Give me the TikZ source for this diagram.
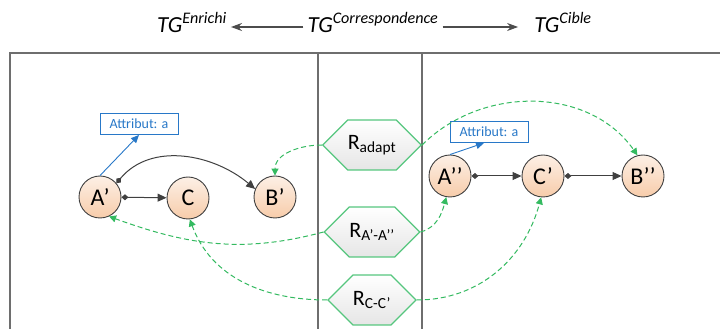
\documentclass[tikz,border=0pt]{standalone}
\usepackage{fontspec}
\setmainfont{Carlito}
\usetikzlibrary{arrows.meta,shapes.symbols}
\definecolor{framegray}{RGB}{110,110,110}
\definecolor{linkgray}{RGB}{64,64,64}
\definecolor{peach}{RGB}{247,204,170}
\definecolor{rulegreen}{RGB}{86,198,126}
\definecolor{mapgreen}{RGB}{52,186,96}
\definecolor{attrblue}{RGB}{40,120,200}

\begin{document}
\begin{tikzpicture}[x=1pt,y=1pt,
		concept/.style={circle,draw=linkgray,line width=0.9pt,top color=peach!30!white,bottom color=peach,
			minimum size=42pt,inner sep=0pt,font=\fontsize{24}{24}\selectfont},
		rulebox/.style={signal,signal to=east and west,signal pointer angle=90,draw=rulegreen,line width=1.2pt,
			top color=white,bottom color=black!10,minimum width=75pt,minimum height=50pt,inner sep=0pt,
			font=\fontsize{22}{22}\selectfont},
		attrbox/.style={draw=attrblue,line width=0.9pt,fill=white,text=attrblue,minimum width=78pt,
			minimum height=21pt,inner sep=1pt,font=\fontsize{14}{14}\selectfont},
		tglabel/.style={font=\fontsize{23}{23}\selectfont\itshape,inner sep=4pt},
		relation/.style={{Diamond[length=7pt,width=6pt]}-{Triangle[length=9pt,width=8pt]},linkgray,line width=1pt},
		mapping/.style={-{Triangle[length=7pt,width=7pt]},mapgreen,line width=1pt,dash pattern=on 5pt off 3pt},
		attrlink/.style={-{Triangle[length=8pt,width=7pt]},attrblue,line width=0.9pt},
		toparrow/.style={-{Stealth[length=11pt,width=8pt]},black!70,line width=1.2pt}]
	\useasboundingbox (0,0) rectangle (720,329);
	
	% Titles of the three graphs.
	\node[tglabel,anchor=base] (tgEnr) at (192,296) {TG\textsuperscript{Enrichi}};
	\node[tglabel,anchor=base] (tgCorr) at (373,296) {TG\textsuperscript{Correspondence}};
	\node[tglabel,anchor=base] (tgCib) at (563,296) {TG\textsuperscript{Cible}};
	\draw[toparrow] ([yshift=6pt]tgCorr.base west) -- ([yshift=6pt]tgEnr.base east);
	\draw[toparrow] ([yshift=6pt]tgCorr.base east) -- ([yshift=6pt,xshift=-12pt]tgCib.base west);
	
	% Frame and columns.
	\draw[framegray,line width=1.5pt] (10,0) -- (10,276) -- (720,276);
	\draw[framegray,line width=1.5pt] (318,0) -- (318,276);
	\draw[framegray,line width=1.5pt] (422,0) -- (422,276);
	
	% Enriched graph.
	\node[concept] (Ap) at (100,132) {A’};
	\node[concept] (C) at (188,131) {C};
	\node[concept] (Bp) at (275,132) {B’};
	\node[attrbox] (attrL) at (139,205) {Attribut: a};
	\draw[relation] (Ap) -- (C);
	\draw[relation] (Ap.40) to[out=50,in=140] (Bp.158);
	\draw[attrlink] (Ap.north) -- (attrL.south);
	
	% Target graph.
	\node[concept] (App) at (450,153) {A’’};
	\node[concept] (Cp) at (543,153) {C’};
	\node[concept] (Bpp) at (643,153) {B’’};
	\node[attrbox] (attrR) at (489,197) {Attribut: a};
	\draw[relation] (App) -- (Cp);
	\draw[relation] (Cp) -- (Bpp);
	\draw[attrlink] (App.north) -- ([xshift=-5pt]attrR.south);
	
	% Correspondence rules.
	\node[rulebox] (Radapt) at (372,184) {R\textsubscript{adapt}};
	\node[rulebox] (RAA) at (372,97) {R\textsubscript{A’-A’’}};
	\node[rulebox] (RCC) at (372,29) {R\textsubscript{C-C’}};
	
	\draw[mapping] (Radapt.west) to[out=180,in=90] (Bp.north);
	\draw[mapping] (Radapt.east) to[out=45,in=125] (Bpp.105);
	\draw[mapping] (RAA.west) to[out=195,in=-20] (Ap.-65);
	\draw[mapping] (RAA.east) to[out=15,in=-105] (App.-100);
	\draw[mapping] (RCC.west) to[out=180,in=-70] (C.-85);
	\draw[mapping] (RCC.east) to[out=0,in=-105] (Cp.-95);
\end{tikzpicture}
\end{document}
